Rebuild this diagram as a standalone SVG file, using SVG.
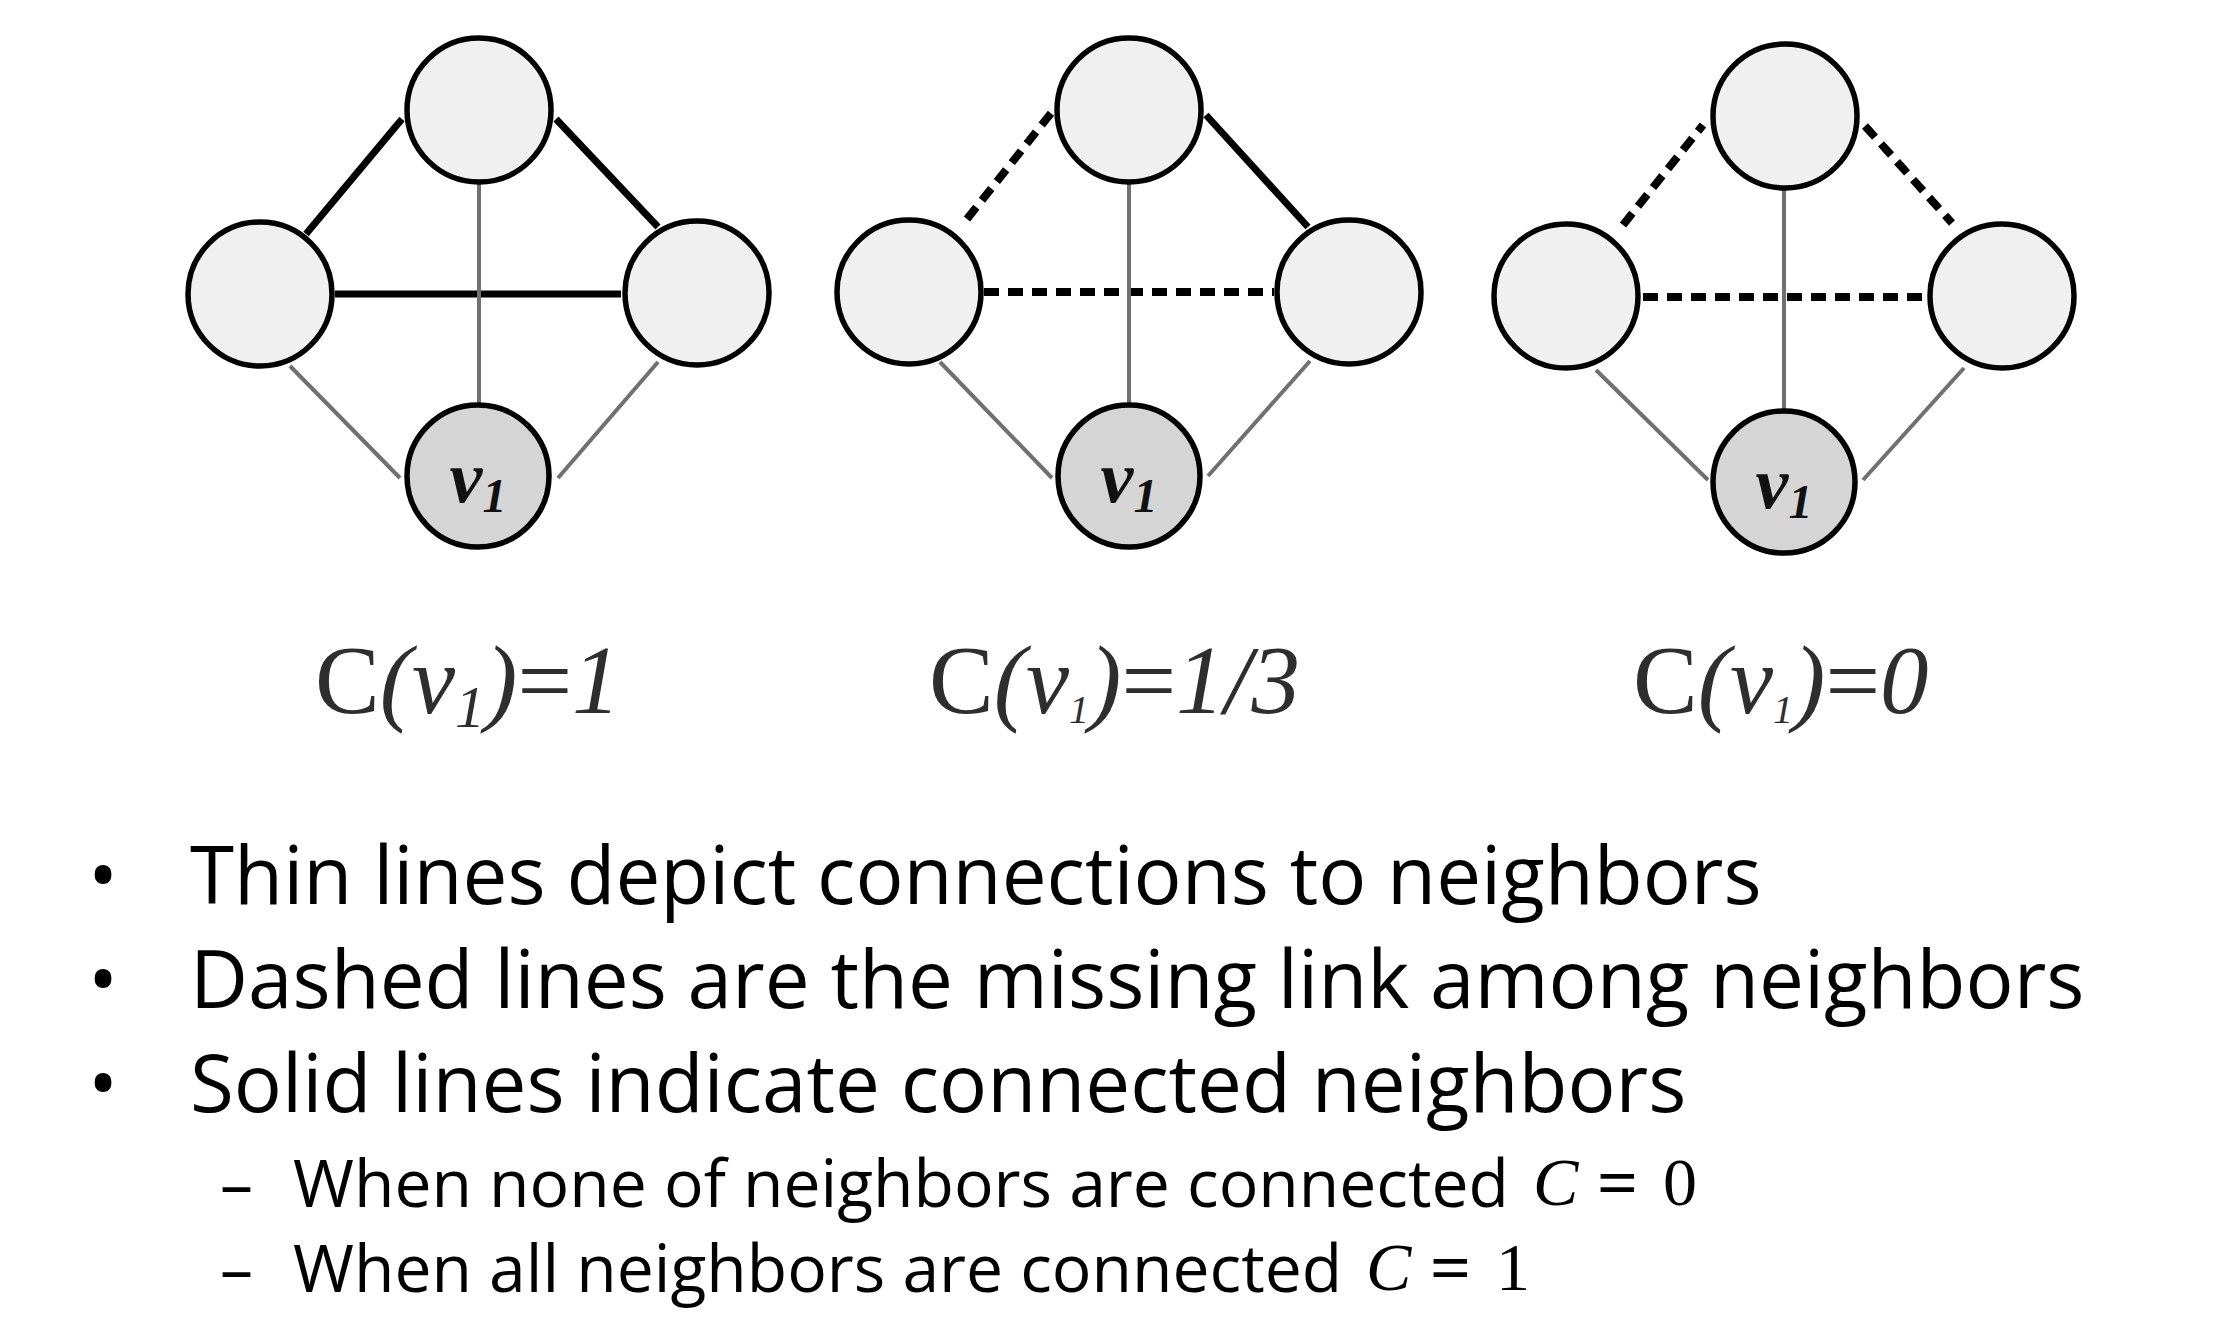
<svg xmlns="http://www.w3.org/2000/svg" width="2228" height="1334" viewBox="0 0 2228 1334">
<style>
.node{fill:#f0f0f0;stroke:#000;stroke-width:5.5}
.v1{fill:#d5d5d5;stroke:#000;stroke-width:5.5}
.thick{stroke:#000;stroke-width:7;fill:none}
.dash{stroke:#000;stroke-width:8;fill:none;stroke-dasharray:15 9}
.thin{stroke:#707070;stroke-width:4;fill:none}
.vlab{font-family:"Liberation Serif",serif;font-style:italic;font-weight:bold;font-size:74px;fill:#111}
.vsub{font-size:48px}
.formula{font-family:"Liberation Serif",serif;font-size:97px;fill:#2e2e2e}
.it{font-style:italic}
.bul{font-family:"Open Sans","Noto Sans",sans-serif;font-size:80px;fill:#000}
.subl{font-family:"Open Sans","Noto Sans",sans-serif;font-size:66px;fill:#000}
.math{font-family:"Liberation Serif",serif;font-size:68px;fill:#000}
</style>
<rect width="2228" height="1334" fill="#fff"/>
<g id="connectors">
  <!-- graph 1 -->
  <line class="thick" x1="306" y1="234" x2="402" y2="119"/>
  <line class="thick" x1="556" y1="119" x2="658" y2="227"/>
  <line class="thick" x1="335" y1="294" x2="621" y2="294"/>
  <line class="thin" x1="479" y1="184" x2="479" y2="403"/>
  <line class="thin" x1="290" y1="366" x2="400" y2="478"/>
  <line class="thin" x1="658" y1="362" x2="558" y2="478"/>
  <!-- graph 2 -->
  <line class="dash" x1="967" y1="219" x2="1052" y2="112"/>
  <line class="thick" x1="1206" y1="115" x2="1308" y2="227"/>
  <line class="dash" x1="984" y1="292" x2="1274" y2="292"/>
  <line class="thin" x1="1129" y1="182" x2="1129" y2="404"/>
  <line class="thin" x1="940" y1="362" x2="1052" y2="478"/>
  <line class="thin" x1="1310" y1="361" x2="1208" y2="476"/>
  <!-- graph 3 -->
  <line class="dash" x1="1623" y1="225" x2="1703" y2="125"/>
  <line class="dash" x1="1865" y1="126" x2="1952" y2="223"/>
  <line class="dash" x1="1643" y1="297" x2="1926" y2="297"/>
  <line class="thin" x1="1784" y1="188" x2="1784" y2="410"/>
  <line class="thin" x1="1596" y1="370" x2="1708" y2="480"/>
  <line class="thin" x1="1964" y1="368" x2="1863" y2="480"/>
</g>
<g id="graph1">
  <circle id="g1-top" class="node" cx="479" cy="110" r="72"/>
  <circle id="g1-left" class="node" cx="260" cy="294" r="72"/>
  <circle id="g1-right" class="node" cx="697" cy="293" r="72"/>
  <g id="g1-v1"><circle class="v1" cx="478" cy="476" r="71"/>
  <text class="vlab" x="478" y="502" text-anchor="middle">v<tspan class="vsub" dy="10">1</tspan></text></g>
</g>
<g id="graph2">
  <circle id="g2-top" class="node" cx="1129" cy="110" r="72"/>
  <circle id="g2-left" class="node" cx="909" cy="292" r="72"/>
  <circle id="g2-right" class="node" cx="1349" cy="292" r="72"/>
  <g id="g2-v1"><circle class="v1" cx="1129" cy="476" r="71"/>
  <text class="vlab" x="1129" y="502" text-anchor="middle">v<tspan class="vsub" dy="10">1</tspan></text></g>
</g>
<g id="graph3">
  <circle id="g3-top" class="node" cx="1785" cy="116" r="72"/>
  <circle id="g3-left" class="node" cx="1566" cy="296" r="72"/>
  <circle id="g3-right" class="node" cx="2002" cy="296" r="72"/>
  <g id="g3-v1"><circle class="v1" cx="1784" cy="482" r="71"/>
  <text class="vlab" x="1784" y="508" text-anchor="middle">v<tspan class="vsub" dy="10">1</tspan></text></g>
</g>
<g id="formulas">
  <text class="formula" x="315" y="713">C<tspan class="it">(v</tspan><tspan class="it" font-size="60" dy="14">1</tspan><tspan class="it" dy="-14">)</tspan>=<tspan class="it">1</tspan></text>
  <text class="formula" x="929" y="713">C<tspan class="it">(v</tspan><tspan class="it" font-size="40" dy="10">1</tspan><tspan class="it" dy="-10">)</tspan>=<tspan class="it">1/3</tspan></text>
  <text class="formula" x="1633" y="713">C<tspan class="it">(v</tspan><tspan class="it" font-size="40" dy="10">1</tspan><tspan class="it" dy="-10">)</tspan>=<tspan class="it">0</tspan></text>
</g>
<g id="bullets">
  <text class="bul" x="88" y="904" font-family="Liberation Sans">•</text>
  <text class="bul" x="190" y="904">Thin lines depict connections to neighbors</text>
  <text class="bul" x="88" y="1008" font-family="Liberation Sans">•</text>
  <text class="bul" x="190" y="1008">Dashed lines are the missing link among neighbors</text>
  <text class="bul" x="88" y="1112" font-family="Liberation Sans">•</text>
  <text class="bul" x="190" y="1112">Solid lines indicate connected neighbors</text>
  <text class="subl" x="220" y="1207">–</text>
  <text class="subl" x="293" y="1207">When none of neighbors are connected</text>
  <text class="math" x="1533" y="1205" font-style="italic">C</text>
  <text class="math" x="1597" y="1205" font-size="72" font-weight="bold" textLength="41" lengthAdjust="spacingAndGlyphs">=</text>
  <text class="math" x="1663" y="1205">0</text>
  <text class="subl" x="220" y="1292">–</text>
  <text class="subl" x="293" y="1292">When all neighbors are connected</text>
  <text class="math" x="1366" y="1290" font-style="italic">C</text>
  <text class="math" x="1430" y="1290" font-size="72" font-weight="bold" textLength="41" lengthAdjust="spacingAndGlyphs">=</text>
  <text class="math" x="1496" y="1290">1</text>
</g>
</svg>
